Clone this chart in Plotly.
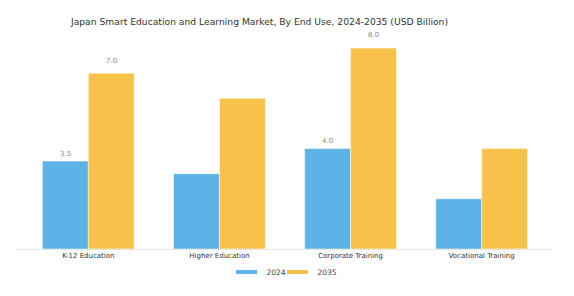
import plotly.graph_objects as go

categories = ["K-12 Education", "Higher Education", "Corporate Training", "Vocational Training"]
values_2024 = [3.5, 3.0, 4.0, 2.0]
values_2035 = [7.0, 6.0, 8.0, 4.0]
labels_2024 = ["3.5", "", "4.0", ""]
labels_2035 = ["7.0", "", "8.0", ""]
series_names = ["2024", "2035"]
colors = ["#5DB3E6", "#F8C24A"]
legend_ids = ["legend", "legend2"]

fig = go.Figure()
for name, vals, col, lg in zip(series_names, [values_2024, values_2035], colors, legend_ids):
    fig.add_trace(go.Bar(
        name=name, x=categories, y=vals, showlegend=False,
        marker=dict(color=col, line=dict(color="white", width=0.5)),
    ))
    # legend entry with a wide thin swatch
    fig.add_trace(go.Scatter(
        name=name, x=[None], y=[None], mode="markers", showlegend=True, legend=lg,
        marker=dict(symbol="line-ew", size=15, color=col,
                    line=dict(color=col, width=4)),
    ))

# value labels above selected bars
for labels, vals, shift in [(labels_2024, values_2024, -23), (labels_2035, values_2035, 23)]:
    for cat, lab, v in zip(categories, labels, vals):
        if lab:
            fig.add_annotation(x=cat, y=v * 1.052 + 0.11, xshift=shift, text=lab,
                               showarrow=False, yanchor="middle",
                               font=dict(size=7, color="#8a8a8a"))

legend_style = dict(orientation="h", xanchor="left", xref="container", yref="container",
                    y=1 - 272 / 296, yanchor="middle", bgcolor="rgba(0,0,0,0)",
                    font=dict(size=7.5, color="#444444"), itemwidth=30)

fig.update_layout(
    width=574, height=296,
    margin=dict(l=17, r=21, t=28, b=47, autoexpand=False),
    paper_bgcolor="white", plot_bgcolor="white",
    font=dict(family="DejaVu Sans", color="#333333"),
    title=dict(text="Japan Smart Education and Learning Market, By End Use, 2024-2035 (USD Billion)",
               x=259.5 / 574, xanchor="center", y=1 - 21.5 / 296, yanchor="middle",
               font=dict(size=9.2, color="#333333")),
    barmode="group", bargap=0.3, bargroupgap=0,
    showlegend=True,
    legend=dict(x=(246.5 - 20) / 574, **legend_style),
    legend2=dict(x=(297.5 - 20) / 574, **legend_style),
    xaxis=dict(range=[-0.544, 3.544], showline=True, linecolor="#e6e6e6", linewidth=1,
               ticks="", tickfont=dict(size=7, color="#333333"), showgrid=False),
    yaxis=dict(range=[0, 8.8], visible=False, showgrid=False),
)

fig.write_html("out.html")
